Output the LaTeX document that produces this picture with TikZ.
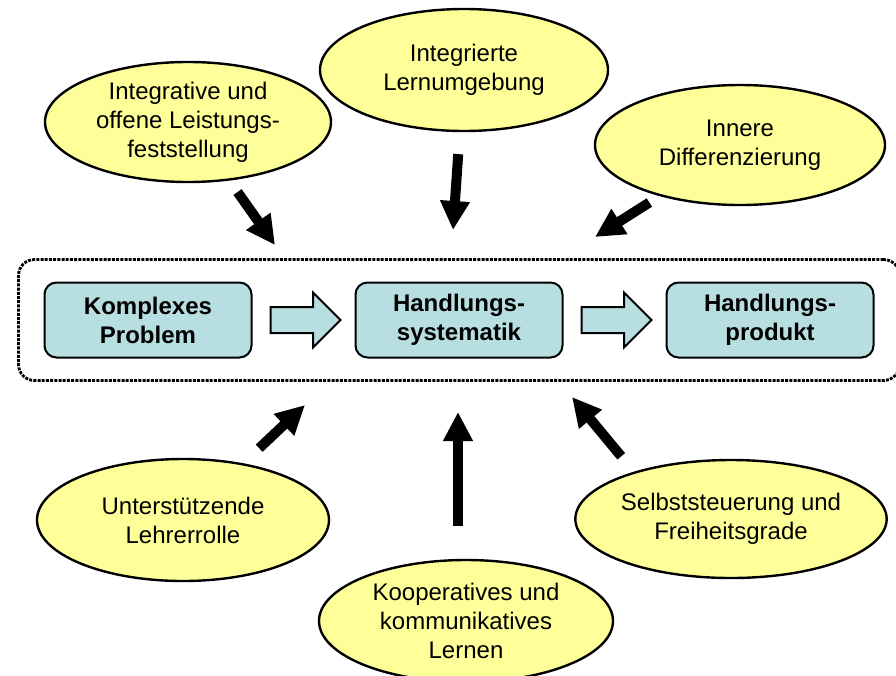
\documentclass[tikz,border=0pt]{standalone}
\usepackage{fontspec}
\setmainfont{Liberation Sans}
\usepackage{tikz}
\usetikzlibrary{positioning,shapes.geometric,shapes.arrows,arrows.meta,fit}
\definecolor{boxteal}{RGB}{183,222,224}
\definecolor{bubbleyellow}{RGB}{255,255,153}
\tikzstyle{stepbox}=[draw,line width=2pt,rounded corners=12pt,fill=boxteal,minimum width=207pt,minimum height=75pt,align=center,font=\fontsize{24}{29}\selectfont\bfseries]
\tikzstyle{bubble}=[ellipse,draw,line width=2.4pt,fill=bubbleyellow,inner sep=0pt,align=center,font=\fontsize{24}{29}\selectfont]
\tikzstyle{blockarrow}=[single arrow,draw,line width=2pt,fill=boxteal,minimum height=70pt,single arrow head extend=14.5pt,single arrow head indent=0pt,inner xsep=0pt,inner ysep=12pt]
\tikzstyle{bigarrow}=[line width=10pt,-{Triangle[length=29pt,width=28pt]}]
\tikzstyle{frame}=[draw,line width=2.8pt,dash pattern=on 3pt off 1.2pt,rounded corners=16pt,inner xsep=25pt,inner ysep=22pt]

\begin{document}
\begin{tikzpicture}[x=1pt,y=-1pt]

	\useasboundingbox (0,0) rectangle (896,675);

	% main chain
	\node[stepbox] (kp) at (148,320) {Komplexes\\Problem};
	\node[blockarrow, right=17pt of kp] (a1) {};
	\node[stepbox, right=102pt of kp] (hs) {Handlungs-\\systematik};
	\node[blockarrow, right=17pt of hs] (a2) {};
	\node[stepbox, right=102pt of hs] (hp) {Handlungs-\\produkt};

	\node[frame, fit=(kp)(hp)] (rahmen) {};

	% surrounding factors
	\node[bubble, minimum width=286pt, minimum height=120pt] (ilf) at (188,122) {Integrative und\\offene Leistungs-\\feststellung};
	\node[bubble, minimum width=288pt, minimum height=122pt] (ilu) at (464,70) {Integrierte\\Lernumgebung};
	\node[bubble, minimum width=290pt, minimum height=120pt] (idz) at (740,145) {Innere\\Differenzierung};
	\node[bubble, minimum width=292pt, minimum height=122pt] (ulr) at (183,520) {Unterstützende\\Lehrerrolle};
	\node[bubble, minimum width=294pt, minimum height=122pt] (kkl) at (466,621) {Kooperatives und\\kommunikatives\\Lernen};
	\node[bubble, minimum width=292pt, minimum height=118pt] (sfg) at (731,519) {Selbststeuerung und\\Freiheitsgrade};

	\coordinate (p1) at (275,245);
	\coordinate (p2) at (453,230);
	\coordinate (p3) at (595,237);
	\coordinate (p4) at (305,405);
	\coordinate (p5) at (458,412);
	\coordinate (p6) at (572,397);

	\draw[bigarrow, shorten <=14pt] (ilf) -- (p1);
	\draw[bigarrow, shorten <=22pt] (ilu) -- (p2);
	\draw[bigarrow, shorten <=12pt] (idz) -- (p3);
	\draw[bigarrow, shorten <=22pt] (ulr) -- (p4);
	\draw[bigarrow, shorten <=33pt] (p5 |- kkl.north) -- (p5);
	\draw[bigarrow, shorten <=20pt] (sfg.154) -- (p6);

\end{tikzpicture}
\end{document}
